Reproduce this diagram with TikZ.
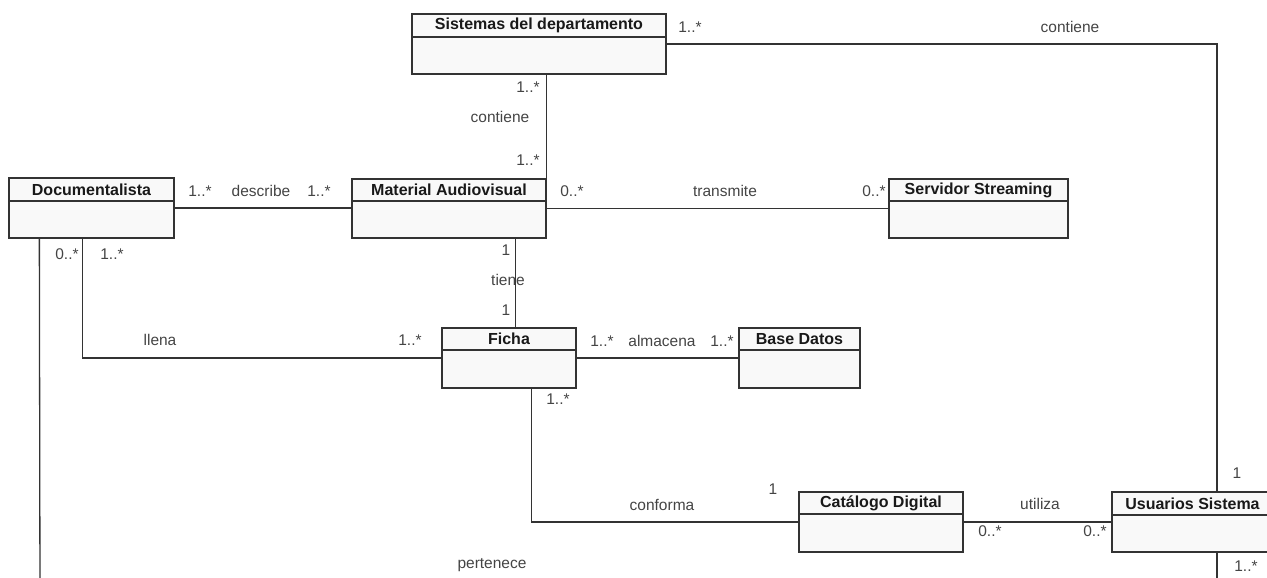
\documentclass[tikz,border=0pt]{standalone}
\usepackage{fontspec}
\setmainfont{Liberation Sans}
\usetikzlibrary{calc}
\definecolor{edge}{HTML}{333333}
\definecolor{boxfill}{HTML}{F9F9F9}
\definecolor{lbl}{HTML}{444444}
\tikzset{
  cls/.style={draw=edge, line width=1.3pt, fill=boxfill, rectangle, inner sep=0pt},
  hdr/.style={draw=edge, line width=1.3pt, fill=boxfill, rectangle, inner sep=0pt,
              minimum height=23pt, anchor=north, font=\fontsize{16}{18}\selectfont\bfseries, text=black!90},
  assoc/.style={draw=edge, line width=1.3pt},
  lab/.style={inner sep=0pt, text=lbl, font=\fontsize{15.5}{18}\selectfont}
}
\begin{document}
\begin{tikzpicture}[x=1pt,y=-1pt]
\useasboundingbox (0,0) rectangle (1267,578);
\clip (0,0) rectangle (1267,578);

% class boxes (centre, size)
\node[cls, minimum width=254, minimum height=60] (sis)  at (539,44)    {};
\node[cls, minimum width=165, minimum height=60] (doc)  at (91.5,208)  {};
\node[cls, minimum width=194, minimum height=59] (mat)  at (449,208.5) {};
\node[cls, minimum width=179, minimum height=59] (serv) at (978.5,208.5) {};
\node[cls, minimum width=134, minimum height=60] (fic)  at (509,358)   {};
\node[cls, minimum width=121, minimum height=60] (base) at (799.5,358) {};
\node[cls, minimum width=164, minimum height=60] (cat)  at (881,522)   {};
\node[cls, minimum width=161, minimum height=60] (us)   at (1192.5,522) {};

% name compartments
\node[hdr, minimum width=254] (sisH)  at (sis.north)  {Sistemas del departamento};
\node[hdr, minimum width=165] (docH)  at (doc.north)  {Documentalista};
\node[hdr, minimum width=194, minimum height=22] (matH)  at (mat.north)  {Material Audiovisual};
\node[hdr, minimum width=179, minimum height=22] (servH) at (serv.north) {Servidor Streaming};
\node[hdr, minimum width=134, minimum height=22] (ficH)  at (fic.north)  {Ficha};
\node[hdr, minimum width=121, minimum height=22] (baseH) at (base.north) {Base Datos};
\node[hdr, minimum width=164, minimum height=22] (catH)  at (cat.north)  {Catálogo Digital};
\node[hdr, minimum width=161] (usH)   at (us.north)   {Usuarios Sistema};

% connector end points
\coordinate (usTop)   at (1217,492);
\coordinate (usBot)   at (1217,552);
\coordinate (usOut)   at (1217,600);
\coordinate (docOut)  at (40,600);

% associations
\draw[assoc] (mat.north east) -- (mat.north east |- sis.south);
\draw[assoc] (sis.east) -| (usTop);
\draw[assoc] (doc.east) -- (doc.east -| mat.west);
\draw[assoc] (mat.east) -- (mat.east -| serv.west);
\draw[assoc] ($(mat.south west)+(164,0)$) -- ($(fic.north west)+(74,0)$);
\draw[assoc] ($(doc.south west)+(74,0)$) |- (fic.west);
\draw[assoc] (fic.east) -- (base.west);
\draw[assoc] ($(fic.south west)+(90,0)$) |- (cat.west);
\draw[assoc] (cat.east) -- (cat.east -| us.west);
\draw[assoc] ($(doc.south west)+(31,0)$) -- (docOut);
\draw[assoc] (usBot) -- (usOut);

% association names and multiplicities
\node[lab] (l1)  at (690,27)   {1..*};
\node[lab] (l2)  at (1070,27)  {contiene};
\node[lab] (l3)  at (528,87)   {1..*};
\node[lab] (l4)  at (500,117)  {contiene};
\node[lab] (l5)  at (528,160)  {1..*};
\node[lab] (l6)  at (200,191)  {1..*};
\node[lab] (l7)  at (261,191)  {describe};
\node[lab] (l8)  at (319,191)  {1..*};
\node[lab] (l9)  at (572,191)  {0..*};
\node[lab] (l10) at (725,191)  {transmite};
\node[lab] (l11) at (874,191)  {0..*};
\node[lab] (l12) at (67,254)   {0..*};
\node[lab] (l13) at (112,254)  {1..*};
\node[lab] (l14) at (506,250)  {1};
\node[lab] (l15) at (508,280)  {tiene};
\node[lab] (l16) at (506,310)  {1};
\node[lab] (l17) at (160,340)  {llena};
\node[lab] (l18) at (410,340)  {1..*};
\node[lab] (l19) at (602,341)  {1..*};
\node[lab] (l20) at (662,341)  {almacena};
\node[lab] (l21) at (722,341)  {1..*};
\node[lab] (l22) at (558,399)  {1..*};
\node[lab] (l23) at (662,505)  {conforma};
\node[lab] (l24) at (773,489)  {1};
\node[lab] (l25) at (1040,504) {utiliza};
\node[lab] (l26) at (990,531)  {0..*};
\node[lab] (l27) at (1095,531) {0..*};
\node[lab] (l28) at (1237,473) {1};
\node[lab] (l29) at (1246,566) {1..*};
\node[lab] (l30) at (492,565)  {pertenece};
\end{tikzpicture}
\end{document}
